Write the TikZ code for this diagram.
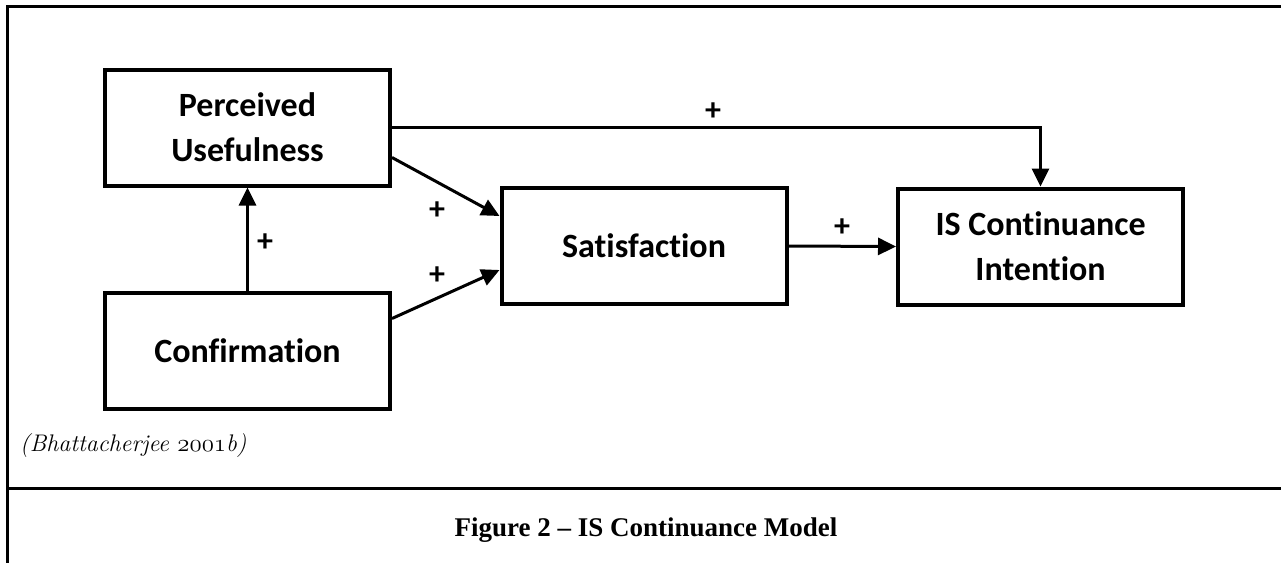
\documentclass[tikz,border=0pt]{standalone}
\usepackage{fontspec}
\newfontfamily\boxfont{Carlito}[Ligatures=NoCommon]
\newfontfamily\capfont{Liberation Serif}
\usetikzlibrary{arrows.meta}

\tikzset{
  construct/.style={draw, line width=4pt, minimum width=285pt, minimum height=116pt,
    inner sep=0pt, align=center, font=\boxfont\bfseries\fontsize{34}{45}\selectfont},
  link/.style={line width=3pt, -{Triangle[length=18pt,width=17pt]}},
  sign/.style={inner sep=0pt, font=\boxfont\bfseries\fontsize{32}{32}\selectfont},
}

\begin{document}
\begin{tikzpicture}[x=1pt,y=-1pt]
\useasboundingbox (0,0) rectangle (1281,563);

% frame
\draw[line width=3pt] (1281,6) -- (7,6) -- (7,563);
\draw[line width=3pt] (7,488) -- (1281,488);

\node[construct] (pu) at (247.5,127.5) {Perceived\\Usefulness};
\node[construct] (conf) at (247.5,350.5) {Confirmation};
\node[construct] (sat) at (644,246) {Satisfaction};
\node[construct] (isci) at (1040.5,246.5) {IS Continuance\\Intention};

\draw[link] (conf.north) -- (pu.south);
\draw[link] (pu.east) -| (isci.north);
\draw[link] ([yshift=-30pt]pu.east) -- ([yshift=30pt]sat.west);
\draw[link] ([yshift=32pt]conf.east) -- ([yshift=-24pt]sat.west);
\draw[link] (sat.east) -- (isci.west);

\node[sign] (p1) at (265,243) {+};
\node[sign] (p2) at (713,112) {+};
\node[sign] (p3) at (437,211) {+};
\node[sign] (p4) at (437,276) {+};
\node[sign] (p5) at (842,228) {+};

\node[anchor=base west, inner sep=0pt, font=\fontsize{24}{24}\selectfont\itshape] (cite)
  at (20,451) {(Bhattacherjee {\usefont{OML}{cmm}{m}{it}2001}b)};
\node[anchor=base, inner sep=0pt, font=\capfont\bfseries\fontsize{27}{27}\selectfont] (caption)
  at (646,536) {Figure 2 – IS Continuance Model};
\end{tikzpicture}
\end{document}
